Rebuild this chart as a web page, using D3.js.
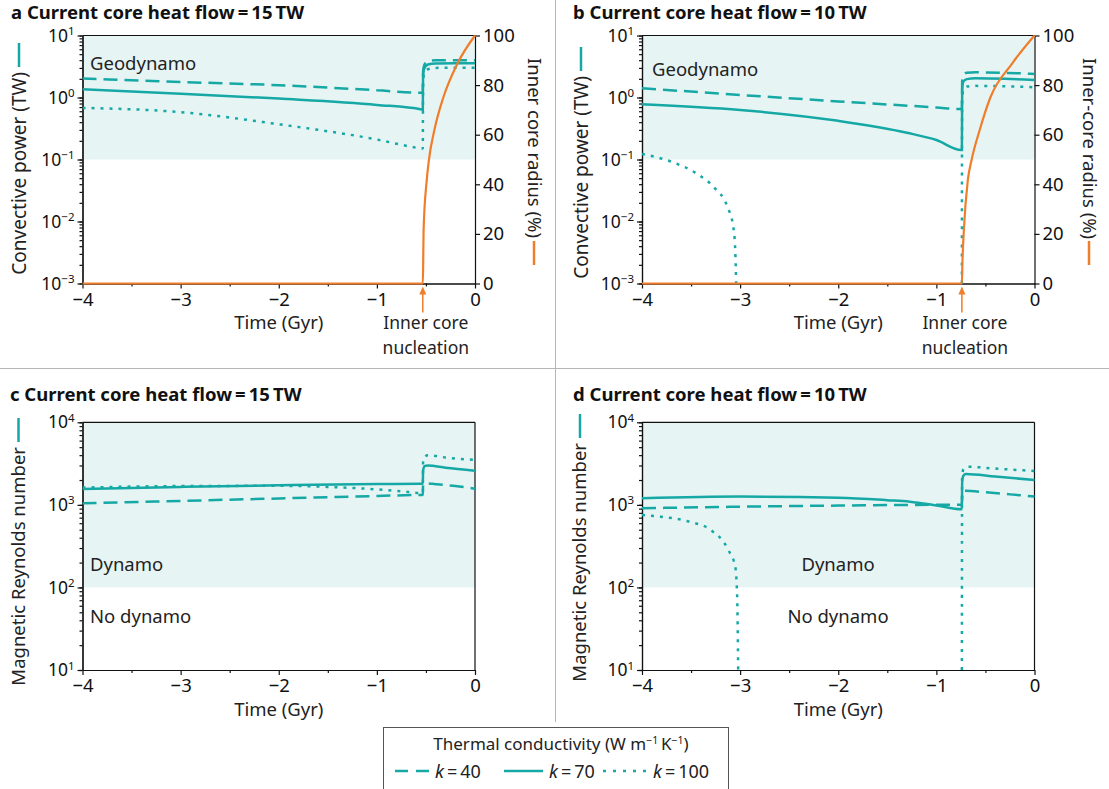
<!DOCTYPE html>
<html>
<head>
<meta charset="utf-8">
<script src="https://cdn.jsdelivr.net/npm/d3@7"></script>
<style>
body { margin: 0; background: #fff; }
svg { font-family: "Noto Sans", "Open Sans", sans-serif; }
</style>
</head>
<body>
<div id="chart"></div>
<script>
// shared axis values
var timeDomain = [-4, 0];
var timeTicks = [-4, -3, -2, -1, 0];
var timeMinorTicks = [-3.5, -2.5, -1.5, -0.5];
var radiusTicks = [0, 20, 40, 60, 80, 100];
var conductivities = [40, 70, 100];

// inner core nucleation times (Gyr)
var nucleationA = -0.532;
var nucleationB = -0.74;

// a: convective power (TW), current core heat flow 15 TW
var powerA40 = [[-4, 2.02], [-3, 1.78], [-2, 1.58], [-1, 1.31], [-0.545, 1.19], [-0.532, 1.19],
  [-0.529, 2.6], [-0.515, 3.4], [-0.48, 3.85], [-0.4, 4.0], [-0.2, 4.0], [0, 4.0]];
var powerA70 = [[-4, 1.36], [-3, 1.15], [-2, 0.96], [-1, 0.76], [-0.545, 0.64], [-0.532, 0.63],
  [-0.529, 2.3], [-0.515, 3.0], [-0.48, 3.4], [-0.4, 3.55], [-0.2, 3.58], [0, 3.58]];
var powerA100 = [[-4, 0.68], [-3, 0.58], [-2, 0.37], [-1, 0.21], [-0.6, 0.155], [-0.545, 0.15], [-0.532, 0.15],
  [-0.529, 1.8], [-0.515, 2.5], [-0.48, 2.85], [-0.4, 3.0], [-0.2, 3.02], [0, 3.02]];
var radiusA = [[-4, 0], [-0.532, 0], [-0.528, 8], [-0.524, 21.5], [-0.492, 41.6], [-0.469, 50],
  [-0.415, 61.7], [-0.323, 75], [-0.18, 88.6], [0, 100]];

// b: convective power (TW), current core heat flow 10 TW
var powerB40 = [[-4, 1.41], [-3, 1.1], [-2, 0.865], [-1, 0.69], [-0.745, 0.65], [-0.74, 0.65],
  [-0.737, 1.9], [-0.725, 2.3], [-0.69, 2.5], [-0.6, 2.55], [-0.3, 2.5], [0, 2.4]];
var powerB70 = [[-4, 0.78], [-3, 0.63], [-2, 0.42], [-1.3, 0.27], [-1, 0.206], [-0.745, 0.142], [-0.74, 0.142],
  [-0.737, 1.4], [-0.725, 1.8], [-0.69, 1.98], [-0.6, 2.04], [-0.3, 2.0], [0, 1.92]];
var powerB100Early = [[-4, 0.123], [-3.7, 0.092], [-3.45, 0.06], [-3.27, 0.036], [-3.13, 0.0173],
  [-3.07, 0.0083], [-3.05, 0.0035], [-3.04, 0.001]];
var powerB100Late = [[-0.74, 0.001], [-0.738, 0.9], [-0.725, 1.3], [-0.69, 1.5], [-0.6, 1.54], [-0.3, 1.52], [0, 1.46]];
var radiusB = [[-4, 0], [-0.74, 0], [-0.735, 8], [-0.72, 21.5], [-0.68, 41.6], [-0.64, 50],
  [-0.56, 61.7], [-0.45, 75], [-0.23, 88.6], [0, 100]];

// c: magnetic Reynolds number, 15 TW
var reynoldsC40 = [[-4, 1045], [-3, 1117], [-2, 1196], [-1, 1282], [-0.545, 1318], [-0.532, 1318],
  [-0.529, 1750], [-0.515, 1825], [-0.4, 1780], [-0.2, 1690], [0, 1570]];
var reynoldsC70 = [[-4, 1560], [-3, 1650], [-2, 1727], [-1, 1785], [-0.545, 1800], [-0.532, 1800],
  [-0.529, 2600], [-0.515, 2950], [-0.48, 3000], [-0.3, 2820], [0, 2595]];
var reynoldsC100 = [[-4, 1620], [-3, 1690], [-2, 1700], [-1.5, 1650], [-1, 1540], [-0.7, 1440], [-0.545, 1390], [-0.532, 1390],
  [-0.529, 3300], [-0.515, 3800], [-0.48, 4000], [-0.3, 3750], [0, 3500]];

// d: magnetic Reynolds number, 10 TW
var reynoldsD40 = [[-4, 910], [-3, 950], [-2, 980], [-1, 1000], [-0.745, 1000], [-0.74, 1000],
  [-0.737, 1400], [-0.725, 1480], [-0.5, 1420], [-0.25, 1340], [0, 1259]];
var reynoldsD70 = [[-4, 1202], [-3, 1259], [-2, 1220], [-1.5, 1140], [-1.27, 1094], [-1, 985], [-0.745, 884], [-0.74, 884],
  [-0.737, 1900], [-0.725, 2250], [-0.7, 2366], [-0.4, 2200], [0, 2003]];
var reynoldsD100Early = [[-4, 755], [-3.81, 720], [-3.52, 626], [-3.3, 497], [-3.12, 284], [-3.05, 179], [-3.03, 77], [-3.02, 10]];
var reynoldsD100Late = [[-0.74, 10], [-0.738, 2200], [-0.725, 2700], [-0.69, 2900], [-0.4, 2750], [0, 2570]];

var teal = '#15a8a5';
var orange = '#f07d2a';
var shadeColor = '#e6f5f4';
var dashFor = { 40: '14,7', 70: null, 100: '3,6' };
var labelSize = 18.5;

var svg = d3.select('#chart').append('svg')
  .attr('width', 1109)
  .attr('height', 789);

// panel separators
svg.append('line').attr('x1', 555.5).attr('x2', 555.5).attr('y1', 0).attr('y2', 722)
  .style('stroke', '#b5b5b5').style('stroke-width', 1);
svg.append('line').attr('x1', 0).attr('x2', 1109).attr('y1', 368.5).attr('y2', 368.5)
  .style('stroke', '#b5b5b5').style('stroke-width', 1);

function superscriptLog(sel) {
  sel.selectAll('.tick text').each(function(d) {
    var e = Math.round(Math.log10(d));
    var t = d3.select(this).text('');
    t.append('tspan').text('10');
    t.append('tspan').attr('dy', '-6.5').attr('font-size', 11.5)
      .text(e < 0 ? '\u2212' + (-e) : String(e));
  });
}

function styleAxis(sel, size) {
  sel.attr('font-size', size || 18.5).attr('font-family', null);
  sel.selectAll('path, line').style('stroke', '#111').style('stroke-width', 1.2);
  sel.selectAll('text').style('fill', '#111');
}

function drawPanel(p) {
  var x = d3.scaleLinear().domain(timeDomain).range([p.left, p.right]);
  var y = d3.scaleLog().domain(p.yDomain).range([p.bottom, p.top]);
  var g = svg.append('g').attr('id', 'panel-' + p.id);

  // dynamo region
  g.append('rect')
    .attr('x', p.left).attr('y', p.top)
    .attr('width', p.right - p.left)
    .attr('height', y(p.dynamoMin) - p.top)
    .style('fill', shadeColor);

  p.regionLabels.forEach(function(r) {
    g.append('text').attr('x', r.x).attr('y', r.y)
      .attr('text-anchor', r.anchor || 'start')
      .attr('font-size', labelSize).style('fill', '#222')
      .text(r.text);
  });

  // title
  var title = g.append('text').attr('x', p.titleX).attr('y', p.titleY)
    .attr('font-size', 18.5).attr('font-weight', 'bold').style('fill', '#111');
  title.append('tspan').text(p.id + ' ');
  title.append('tspan').text(p.title);

  // axes
  var minorY = g.append('g').attr('transform', 'translate(' + p.left + ',0)')
    .call(d3.axisLeft(y).tickValues(y.ticks()).tickSize(3).tickSizeOuter(0).tickFormat(''));
  styleAxis(minorY);
  var decades = y.ticks().filter(function(v) { return Math.abs(Math.log10(v) - Math.round(Math.log10(v))) < 1e-6; });
  var majorY = g.append('g').attr('transform', 'translate(' + p.left + ',0)')
    .call(d3.axisLeft(y).tickValues(decades).tickSize(5).tickSizeOuter(0).tickPadding(3));
  styleAxis(majorY, 17.5);
  superscriptLog(majorY);

  var minorX = g.append('g').attr('transform', 'translate(0,' + p.bottom + ')')
    .call(d3.axisBottom(x).tickValues(timeMinorTicks).tickSize(3).tickSizeOuter(0).tickFormat(''));
  styleAxis(minorX);
  var majorX = g.append('g').attr('transform', 'translate(0,' + p.bottom + ')')
    .call(d3.axisBottom(x).tickValues(timeTicks).tickSize(5).tickSizeOuter(0).tickPadding(4)
      .tickFormat(d3.format('d')));
  styleAxis(majorX);

  g.append('line').attr('x1', p.left).attr('x2', p.right).attr('y1', p.top).attr('y2', p.top)
    .style('stroke', '#111').style('stroke-width', 1.2);

  var yR = d3.scaleLinear().domain([0, 100]).range([p.bottom, p.top]);
  if (p.radius) {
    var rightAxis = g.append('g').attr('transform', 'translate(' + p.right + ',0)')
      .call(d3.axisRight(yR).tickValues(radiusTicks).tickSize(5).tickSizeOuter(0).tickPadding(3));
    styleAxis(rightAxis);
  } else {
    g.append('line').attr('x1', p.right).attr('x2', p.right).attr('y1', p.top).attr('y2', p.bottom)
      .style('stroke', '#111').style('stroke-width', 1.2);
  }

  // axis titles
  g.append('text')
    .attr('transform', 'translate(' + p.yLabelX + ',' + p.yLabelEnd + ') rotate(-90)')
    .attr('text-anchor', 'end').attr('dy', '0.35em')
    .attr('font-size', p.yLabelSize).style('fill', '#222')
    .text(p.yLabel);
  g.append('line').attr('x1', p.yLabelX).attr('x2', p.yLabelX)
    .attr('y1', p.yLabelEnd - 5).attr('y2', p.yLabelEnd - 29)
    .style('stroke', teal).style('stroke-width', 2.5);

  g.append('text').attr('x', (p.left + p.right) / 2).attr('y', p.bottom + 45.5)
    .attr('text-anchor', 'middle').attr('font-size', labelSize).style('fill', '#222')
    .text('Time (Gyr)');

  // series
  var clipId = 'clip-' + p.id;
  g.append('clipPath').attr('id', clipId).append('rect')
    .attr('x', p.left).attr('y', p.top - 2)
    .attr('width', p.right - p.left + 1).attr('height', p.bottom - p.top + 4);

  var line = d3.line()
    .x(function(d) { return x(d[0]); })
    .y(function(d) { return y(Math.max(d[1], p.yDomain[0])); })
    .curve(d3.curveMonotoneX);

  p.series.forEach(function(s) {
    g.append('path').datum(s.values)
      .attr('d', line)
      .attr('clip-path', 'url(#' + clipId + ')')
      .style('fill', 'none')
      .style('stroke', teal)
      .style('stroke-width', 2.5)
      .style('stroke-dasharray', dashFor[s.k]);
  });

  if (p.radius) {
    var rLine = d3.line()
      .x(function(d) { return x(d[0]); })
      .y(function(d) { return yR(d[1]); })
      .curve(d3.curveMonotoneX);
    g.append('path').datum(p.radius)
      .attr('d', rLine)
      .attr('clip-path', 'url(#' + clipId + ')')
      .style('fill', 'none').style('stroke', orange).style('stroke-width', 2.2);

    g.append('text')
      .attr('transform', 'translate(' + p.rLabelX + ',58) rotate(90)')
      .attr('text-anchor', 'start').attr('dy', '0.35em')
      .attr('font-size', labelSize).style('fill', '#222')
      .text(p.rLabel);
    g.append('line').attr('x1', p.rLabelX).attr('x2', p.rLabelX)
      .attr('y1', 241).attr('y2', 265)
      .style('stroke', orange).style('stroke-width', 2.5);

    // nucleation arrow
    var ax = x(p.nucleation);
    g.append('line').attr('x1', ax).attr('x2', ax).attr('y1', p.bottom + 29).attr('y2', p.bottom + 8)
      .style('stroke', orange).style('stroke-width', 1.5);
    g.append('path')
      .attr('d', 'M' + ax + ',' + (p.bottom + 3) + 'l-3.5,8h7z')
      .style('fill', orange);
    g.append('text').attr('x', ax + 3).attr('y', p.bottom + 45.5)
      .attr('text-anchor', 'middle').attr('font-size', 17.5).style('fill', '#222')
      .text('Inner core');
    g.append('text').attr('x', ax + 3).attr('y', p.bottom + 70)
      .attr('text-anchor', 'middle').attr('font-size', 17.5).style('fill', '#222')
      .text('nucleation');
  }
}

drawPanel({
  id: 'a', title: 'Current core heat flow\u2009=\u200915\u2009TW', titleX: 11, titleY: 18.5,
  left: 82.5, right: 475, top: 35.5, bottom: 283.5,
  yDomain: [1e-3, 10], dynamoMin: 0.1,
  yLabel: 'Convective power (TW)', yLabelX: 19, yLabelEnd: 72, yLabelSize: 19,
  rLabel: 'Inner core radius (%)', rLabelX: 534,
  nucleation: nucleationA, radius: radiusA,
  regionLabels: [{ text: 'Geodynamo', x: 90, y: 70 }],
  series: [{ k: 40, values: powerA40 }, { k: 70, values: powerA70 }, { k: 100, values: powerA100 }]
});

drawPanel({
  id: 'b', title: 'Current core heat flow\u2009=\u200910\u2009TW', titleX: 573, titleY: 18.5,
  left: 642, right: 1034.5, top: 35.5, bottom: 283.5,
  yDomain: [1e-3, 10], dynamoMin: 0.1,
  yLabel: 'Convective power (TW)', yLabelX: 581, yLabelEnd: 76, yLabelSize: 19,
  rLabel: 'Inner-core radius (%)', rLabelX: 1089,
  nucleation: nucleationB, radius: radiusB,
  regionLabels: [{ text: 'Geodynamo', x: 652, y: 76 }],
  series: [{ k: 40, values: powerB40 }, { k: 70, values: powerB70 },
    { k: 100, values: powerB100Early }, { k: 100, values: powerB100Late }]
});

drawPanel({
  id: 'c', title: 'Current core heat flow\u2009=\u200915\u2009TW', titleX: 10, titleY: 401,
  left: 82.5, right: 475, top: 422.3, bottom: 670,
  yDomain: [10, 1e4], dynamoMin: 100,
  yLabel: 'Magnetic Reynolds number', yLabelX: 18.5, yLabelEnd: 447, yLabelSize: 18.5,
  regionLabels: [{ text: 'Dynamo', x: 90, y: 571 }, { text: 'No dynamo', x: 90, y: 623 }],
  series: [{ k: 40, values: reynoldsC40 }, { k: 70, values: reynoldsC70 }, { k: 100, values: reynoldsC100 }]
});

drawPanel({
  id: 'd', title: 'Current core heat flow\u2009=\u200910\u2009TW', titleX: 573, titleY: 401,
  left: 642, right: 1034.5, top: 422.3, bottom: 670,
  yDomain: [10, 1e4], dynamoMin: 100,
  yLabel: 'Magnetic Reynolds number', yLabelX: 580, yLabelEnd: 443, yLabelSize: 18.5,
  regionLabels: [{ text: 'Dynamo', x: 838, y: 571, anchor: 'middle' }, { text: 'No dynamo', x: 838, y: 623, anchor: 'middle' }],
  series: [{ k: 40, values: reynoldsD40 }, { k: 70, values: reynoldsD70 },
    { k: 100, values: reynoldsD100Early }, { k: 100, values: reynoldsD100Late }]
});

// legend
var legend = svg.append('g');
legend.append('rect').attr('x', 383.5).attr('y', 727.5).attr('width', 345).attr('height', 80)
  .style('fill', '#fff').style('stroke', '#555').style('stroke-width', 1);
var lt = legend.append('text').attr('x', 561).attr('y', 750).attr('text-anchor', 'middle')
  .attr('font-size', 17).style('fill', '#222');
lt.append('tspan').text('Thermal conductivity (W m');
lt.append('tspan').attr('dy', -6).attr('font-size', 10.5).text('\u22121');
lt.append('tspan').attr('dy', 6).text('\u2009K');
lt.append('tspan').attr('dy', -6).attr('font-size', 10.5).text('\u22121');
lt.append('tspan').attr('dy', 6).text(')');

var legendX = d3.scaleOrdinal().domain(conductivities).range([395, 504, 603]);
var legendW = { 40: 34, 70: 39, 100: 44 };
conductivities.forEach(function(k) {
  var x0 = legendX(k);
  legend.append('line').attr('x1', x0).attr('x2', x0 + legendW[k]).attr('y1', 771).attr('y2', 771)
    .style('stroke', teal).style('stroke-width', 2.5)
    .style('stroke-dasharray', k === 40 ? '13,8' : (k === 100 ? '3,7' : null));
  var t = legend.append('text').attr('x', x0 + legendW[k] + 6).attr('y', 778)
    .attr('font-size', 18).style('fill', '#222');
  t.append('tspan').attr('font-style', 'italic').text('k');
  t.append('tspan').text('\u2009=\u2009' + k);
});
</script>
</body>
</html>
